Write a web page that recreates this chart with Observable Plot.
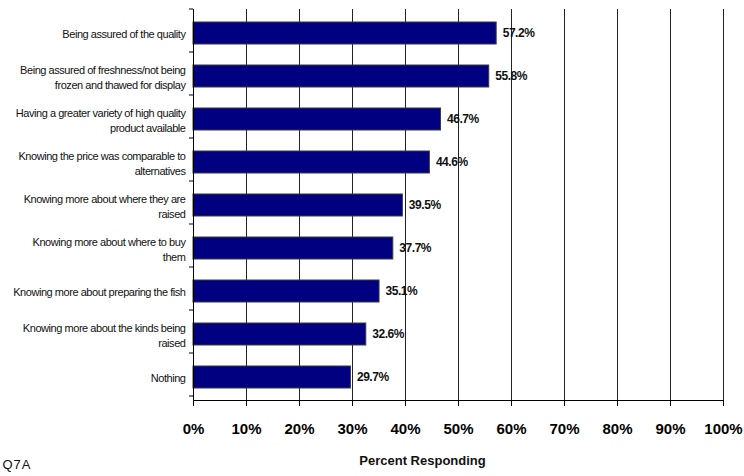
<!DOCTYPE html>
<html>
<head>
<meta charset="utf-8">
<script src="https://cdn.jsdelivr.net/npm/d3@7"></script>
<script src="https://cdn.jsdelivr.net/npm/@observablehq/plot@0.6"></script>
<style>
  html, body { margin: 0; padding: 0; background: #fff; }
  #chart svg g[aria-label="text"] text { letter-spacing: -0.45px; }
</style>
</head>
<body>
<div id="chart"></div>
<script>
const categories = [
  "Being assured of the quality",
  "Being assured of freshness/not being\nfrozen and thawed for display",
  "Having a greater variety of high quality\nproduct available",
  "Knowing the price was comparable to\nalternatives",
  "Knowing more about where they are\nraised",
  "Knowing more about where to buy\nthem",
  "Knowing more about preparing the fish",
  "Knowing more about the kinds being\nraised",
  "Nothing"
];
const values = [57.2, 55.8, 46.7, 44.6, 39.5, 37.7, 35.1, 32.6, 29.7];
const xTicks = [0, 10, 20, 30, 40, 50, 60, 70, 80, 90, 100];
const xTitle = "Percent Responding";
const note = "Q7A";

const data = categories.map((c, i) => ({category: c, value: values[i]}));

const plot = Plot.plot({
  width: 744,
  height: 476,
  marginLeft: 193,
  marginRight: 21,
  marginTop: 9,
  marginBottom: 76,
  style: {fontFamily: "'Liberation Sans', Arial, sans-serif", background: "#fff", color: "#000", overflow: "visible"},
  x: {domain: [0, 100]},
  y: {domain: categories, paddingInner: 0.5, paddingOuter: 0.25, axis: null},
  marks: [
    Plot.gridX(xTicks.filter(d => d > 0), {stroke: "#222", strokeOpacity: 1, strokeWidth: 1}),
    Plot.barX(data, {x: "value", y: "category", fill: "#000080", stroke: "#3a3a3a", strokeWidth: 1}),
    Plot.text(data, {x: "value", y: "category", text: d => d.value.toFixed(1) + "%", dx: 6, textAnchor: "start", fontWeight: "bold", fontSize: 12, fill: "#111"}),
    Plot.text(data, {y: "category", frameAnchor: "left", text: "category", dx: -8, textAnchor: "end", fontSize: 11, lineHeight: 1.4, fill: "#111"}),
    Plot.axisX({ticks: xTicks, tickFormat: d => d + "%", tickSize: 6, tickPadding: 17, fontSize: 15, fontWeight: "bold", label: null, stroke: "#000"}),
    Plot.ruleX([0], {stroke: "#000"}),
    Plot.text([xTitle], {frameAnchor: "bottom", text: d => d, dx: -36, dy: 64, fontSize: 13, fontWeight: "bold", fill: "#111"}),
    Plot.text([note], {frameAnchor: "bottom-left", text: d => d, dx: -191, dy: 68, textAnchor: "start", fontSize: 13, fill: "#111"})
  ]
});

// bottom axis line and category boundary ticks, derived from the scales
const xs = plot.scale("x");
const ys = plot.scale("y");
const svg = d3.select(plot);
const x0 = d3.scaleLinear().domain(xs.domain).range(xs.range);
const [r0, r1] = ys.range;
const g = svg.append("g").attr("stroke", "#000").attr("stroke-width", 1);
g.append("line").attr("x1", x0(0)).attr("x2", x0(100)).attr("y1", r1 + 0.5).attr("y2", r1 + 0.5);
d3.range(categories.length + 1).forEach(i => {
  const y = r0 + i * ys.step;
  g.append("line").attr("x1", x0(0) - 4).attr("x2", x0(0)).attr("y1", y).attr("y2", y);
});
const textGroups = svg.selectAll('g[aria-label="text"]');
textGroups.filter((d, i) => i === 2).selectAll("text").style("letter-spacing", "0px");
textGroups.filter((d, i) => i === 3).selectAll("text").style("letter-spacing", "1px");

document.getElementById("chart").appendChild(plot);
</script>
</body>
</html>
